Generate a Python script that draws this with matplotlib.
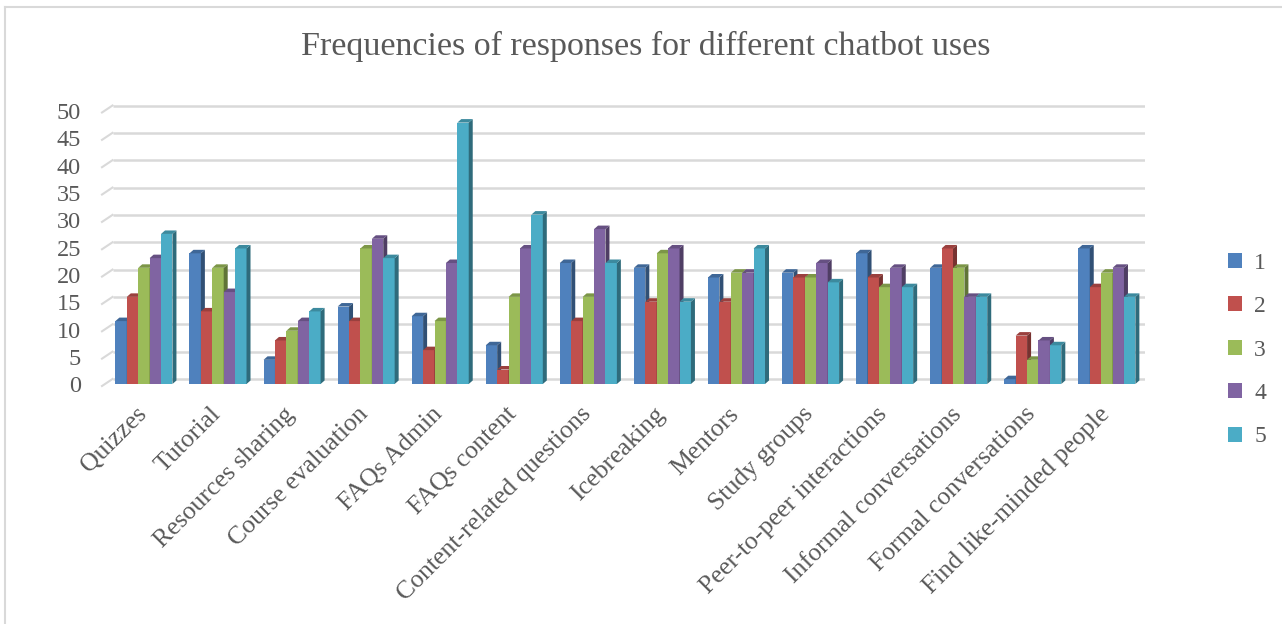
"""Frequencies of responses for different chatbot uses (Excel-style 3D columns)."""

import matplotlib

matplotlib.use("Agg")
import matplotlib.pyplot as plt
import matplotlib.transforms as mtransforms
from matplotlib.collections import PolyCollection
from matplotlib.lines import Line2D
from matplotlib.patches import Patch
import numpy as np

categories = [
    "Quizzes", "Tutorial", "Resources sharing", "Course evaluation",
    "FAQs Admin", "FAQs content", "Content-related questions", "Icebreaking",
    "Mentors", "Study groups", "Peer-to-peer interactions",
    "Informal conversations", "Formal conversations", "Find like-minded people",
]
series_names = ["1", "2", "3", "4", "5"]
resp_1 = [11.50, 23.89, 4.42, 14.16, 12.39, 7.08, 22.12, 21.24, 19.47, 20.35, 23.89, 21.24, 0.88, 24.78]
resp_2 = [15.93, 13.27, 7.96, 11.50, 6.19, 2.65, 11.50, 15.04, 15.04, 19.47, 19.47, 24.78, 8.85, 17.70]
resp_3 = [21.24, 21.24, 9.73, 24.78, 11.50, 15.93, 15.93, 23.89, 20.35, 19.47, 17.70, 21.24, 4.42, 20.35]
resp_4 = [23.01, 16.81, 11.50, 26.55, 22.12, 24.78, 28.32, 24.78, 20.35, 22.12, 21.24, 15.93, 7.96, 21.24]
resp_5 = [27.43, 24.78, 13.27, 23.01, 47.79, 30.97, 22.12, 15.04, 24.78, 18.58, 17.70, 15.93, 7.08, 15.93]
series = [resp_1, resp_2, resp_3, resp_4, resp_5]
yticks = list(range(0, 51, 5))

colors = ["#4F81BD", "#C0504D", "#9BBB59", "#8064A2", "#4BACC6"]
TEXT = "#595959"
GRID = "#D9D9D9"
SERIF = ["Liberation Serif", "DejaVu Serif"]

# pixel layout of the original
W, H = 1282, 624
X0, X1 = 108, 1145      # front plane, category axis
Y_ZERO = 384            # front plane, value 0
PPU = 5.47              # pixels per value unit
YMAX = 52

fig = plt.figure(figsize=(W / 100, H / 100), dpi=100)
ax = fig.add_axes([X0 / W, (H - Y_ZERO) / H, (X1 - X0) / W, YMAX * PPU / H])
ax.set_xlim(-0.5, len(categories) - 0.5)
ax.set_ylim(0, YMAX)
for sp in ax.spines.values():
    sp.set_visible(False)
ax.set_xticks([])
ax.set_yticks([])

ppx = (X1 - X0) / len(categories)

# value labels, a little below the front plane like the original
ylab_tr = ax.transData + mtransforms.ScaledTranslation(-0.27, -0.03, fig.dpi_scale_trans)
for t in yticks:
    ax.text(-0.5, t, str(t), ha="right", va="center", fontsize=17.5,
            color=TEXT, family=SERIF, transform=ylab_tr)

# back wall gridlines, shifted up/right to mimic depth
back = ax.transData + mtransforms.ScaledTranslation(0.045, 0.05, fig.dpi_scale_trans)
ax.hlines(yticks, -0.5, len(categories) - 0.5, colors=GRID, lw=1.8,
          transform=back, zorder=1)
for t in yticks:
    # slant from the front-left corner to the back wall
    ax.plot([-0.5 - 6 / ppx, -0.5 + 4.5 / ppx], [t - 2 / PPU, t + 5 / PPU],
            color=GRID, lw=1.5, clip_on=False, zorder=1)

# 3D columns: front face + right side + top cap
bw = 0.154
start = -0.40
dx, dy = 4 / ppx, 3.5 / PPU
xc = np.arange(len(categories))
for j, (vals, col) in enumerate(zip(series, colors)):
    rgb = np.array(matplotlib.colors.to_rgb(col))
    left = xc + start + j * bw
    ax.bar(left, vals, width=bw, align="edge", color=col, linewidth=0,
           zorder=3 + j)
    sides, tops = [], []
    for xl, h in zip(left, vals):
        xr = xl + bw
        sides.append([(xr, 0), (xr + dx, dy), (xr + dx, h + dy), (xr, h)])
        tops.append([(xl, h), (xl + dx, h + dy), (xr + dx, h + dy), (xr, h)])
    ax.add_collection(PolyCollection(sides, facecolors=[rgb * 0.62],
                                     linewidths=0, zorder=3 + j))
    ax.add_collection(PolyCollection(tops, facecolors=[rgb * 0.8],
                                     linewidths=0, zorder=3 + j))

# rotated category labels
lab_tr = ax.transData + mtransforms.ScaledTranslation(-0.02, -0.27, fig.dpi_scale_trans)
for i, cat in enumerate(categories):
    ax.text(i, 0, cat, rotation=45, rotation_mode="anchor", ha="right",
            va="center", fontsize=18.5, color=TEXT, family=SERIF,
            transform=lab_tr)

fig.text(646 / W, 1 - 46 / H, "Frequencies of responses for different chatbot uses",
         ha="center", va="center", fontsize=24.5, color=TEXT, family=SERIF)

handles = [Patch(facecolor=c, edgecolor="none") for c in colors]
leg = fig.legend(handles, series_names, loc="center left",
                 bbox_to_anchor=(1207 / W, 1 - 350 / H), frameon=False,
                 handlelength=0.6, handleheight=0.6, handletextpad=0.5,
                 labelspacing=0.95, prop={"family": SERIF, "size": 17})
for txt in leg.get_texts():
    txt.set_color(TEXT)

# chart border (left and top visible in the original)
fig.add_artist(Line2D([5 / W, 5 / W], [0, 1 - 7 / H], color=GRID, lw=1.5,
                      transform=fig.transFigure))
fig.add_artist(Line2D([5 / W, 1], [1 - 7 / H, 1 - 7 / H], color=GRID, lw=1.5,
                      transform=fig.transFigure))

fig.savefig("out.png", dpi=100)
